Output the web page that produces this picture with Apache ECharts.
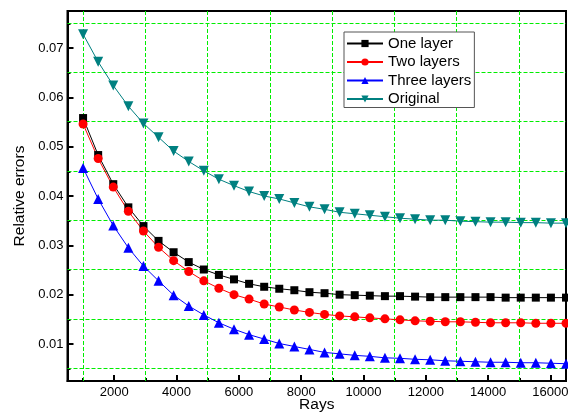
<!DOCTYPE html>
<html>
<head>
<meta charset="utf-8">
<script src="https://cdn.jsdelivr.net/npm/echarts@6/dist/echarts.min.js"></script>
<style>
html,body{margin:0;padding:0;background:#fff;}
#chart{width:568px;height:416px;}
</style>
</head>
<body>
<div id="chart"></div>
<script>
var rays = [1000, 1484, 1969, 2453, 2938, 3422, 3906, 4391, 4875, 5359, 5844, 6328, 6813, 7297, 7781, 8266,
  8750, 9234, 9719, 10203, 10688, 11172, 11656, 12141, 12625, 13109, 13594, 14078, 14563, 15047, 15531, 16016, 16500];

var oneLayer = [0.0558, 0.0483, 0.0424, 0.0377, 0.0339, 0.0309, 0.0286, 0.0266, 0.0251, 0.0240, 0.0231,
  0.0222, 0.0216, 0.0212, 0.0209, 0.0205, 0.0203, 0.0200, 0.0199, 0.0198, 0.0197, 0.0197, 0.0196,
  0.0195, 0.0195, 0.0195, 0.0195, 0.0195, 0.0194, 0.0194, 0.0194, 0.0194, 0.0194];

var twoLayers = [0.0546, 0.0476, 0.0418, 0.0369, 0.0329, 0.0296, 0.0269, 0.0247, 0.0228, 0.0213, 0.0200,
  0.0191, 0.0181, 0.0175, 0.0169, 0.0164, 0.0160, 0.0157, 0.0155, 0.0153, 0.0151, 0.0149, 0.0147,
  0.0146, 0.0145, 0.0145, 0.0144, 0.0143, 0.0143, 0.0143, 0.0142, 0.0142, 0.0142];

var threeLayers = [0.0457, 0.0394, 0.0340, 0.0295, 0.0258, 0.0228, 0.0199, 0.0177, 0.0159, 0.0143, 0.0130,
  0.0119, 0.0110, 0.0101, 0.0095, 0.0089, 0.0083, 0.0080, 0.0077, 0.0075, 0.0072, 0.0071, 0.0069,
  0.0068, 0.0066, 0.0065, 0.0064, 0.0063, 0.0063, 0.0062, 0.0062, 0.0061, 0.0060];

var original = [0.0728, 0.0672, 0.0624, 0.0582, 0.0547, 0.0519, 0.0491, 0.0470, 0.0451, 0.0434, 0.0421,
  0.0409, 0.0400, 0.0394, 0.0386, 0.0378, 0.0373, 0.0367, 0.0364, 0.0361, 0.0358, 0.0355, 0.0353,
  0.0351, 0.0351, 0.0349, 0.0348, 0.0347, 0.0347, 0.0346, 0.0346, 0.0345, 0.0345];

// positions of the dashed green grid lines
var gridRays = [1000, 3000, 5000, 7000, 9000, 11000, 13000, 15000];
var gridErrors = [0.005, 0.015, 0.025, 0.035, 0.045, 0.055, 0.065, 0.075];

var seriesNames = ['One layer', 'Two layers', 'Three layers', 'Original'];
var xLabel = 'Rays';
var yLabel = 'Relative errors';

function pairs(ys) { return rays.map(function (x, i) { return [x, ys[i]]; }); }

var FONT = '"Liberation Sans", Arial, sans-serif';
var GRID_GREEN = '#00ee00';

var chart = echarts.init(document.getElementById('chart'), null, {renderer: 'canvas'});

function mkSeries(name, ys, color, symbol, size, rotate) {
  return {
    name: name, type: 'line', data: pairs(ys),
    symbol: symbol, symbolSize: size, symbolRotate: rotate || 0,
    showAllSymbol: true,
    lineStyle: {color: color, width: 1},
    itemStyle: {color: color},
    animation: false, clip: false, z: 3
  };
}

function crisp(v) { return Math.floor(v) + 0.5; }

var gridStyle = {stroke: GRID_GREEN, lineWidth: 1, lineDash: [4, 2], fill: null};

function vGridItem(params, api) {
  var cs = params.coordSys;
  var x = crisp(api.coord([api.value(0), gridErrors[0]])[0]);
  return {type: 'line', silent: true, shape: {x1: x, y1: cs.y, x2: x, y2: cs.y + cs.height}, style: gridStyle};
}
function hGridItem(params, api) {
  var cs = params.coordSys;
  var y = crisp(api.coord([gridRays[0], api.value(1)])[1]);
  return {type: 'line', silent: true, shape: {x1: cs.x, y1: y, x2: cs.x + cs.width, y2: y}, style: gridStyle};
}

var option = {
  animation: false,
  backgroundColor: '#fff',
  textStyle: {fontFamily: FONT},
  grid: {left: 67.5, top: 11, right: 2, bottom: 35, containLabel: false, outerBoundsMode: 'none',
    show: true, borderColor: '#000', borderWidth: 2, backgroundColor: 'transparent'},
  legend: {
    left: 344, top: 32,
    orient: 'vertical',
    backgroundColor: '#fff',
    borderColor: '#555', borderWidth: 1,
    padding: [4, 3, 1, 2],
    itemGap: 3.5,
    itemWidth: 36, itemHeight: 9,
    textStyle: {fontFamily: FONT, fontSize: 15, color: '#000'},
    data: seriesNames
  },
  xAxis: {
    type: 'value', min: 500, max: 16500, splitNumber: 8,
    name: xLabel, nameLocation: 'middle', nameGap: 16, nameMoveOverlap: false,
    nameTextStyle: {fontFamily: FONT, fontSize: 15.5, color: '#000'},
    axisLine: {show: true, lineStyle: {color: '#000', width: 2}},
    axisTick: {show: true, inside: true, length: 6, lineStyle: {color: '#000', width: 2}},
    minorTick: {show: true, splitNumber: 2, length: 3, lineStyle: {color: '#000', width: 2}},
    axisLabel: {showMinLabel: false, showMaxLabel: false, fontFamily: FONT, fontSize: 13, color: '#000', margin: 5,
      formatter: function (v) { return String(v); }},
    splitLine: {show: false},
    minorSplitLine: {show: false}
  },
  yAxis: {
    type: 'value', min: 0.0025, max: 0.0775, splitNumber: 8,
    name: yLabel, nameLocation: 'middle', nameGap: 40, nameMoveOverlap: false,
    nameTextStyle: {fontFamily: FONT, fontSize: 15.5, color: '#000'},
    axisLine: {show: true, lineStyle: {color: '#000', width: 2}},
    axisTick: {show: true, inside: true, length: 6, lineStyle: {color: '#000', width: 2}},
    minorTick: {show: true, splitNumber: 2, length: 3, lineStyle: {color: '#000', width: 2}},
    axisLabel: {showMinLabel: false, showMaxLabel: false, fontFamily: FONT, fontSize: 13, color: '#000', margin: 4,
      formatter: function (v) { return v.toFixed(2); }},
    splitLine: {show: false},
    minorSplitLine: {show: false}
  },
  series: [
    {
      name: 'vgrid', type: 'custom', z: 1, silent: true, clip: false,
      data: gridRays.map(function (v) { return [v, gridErrors[0]]; }),
      renderItem: vGridItem
    },
    {
      name: 'hgrid', type: 'custom', z: 1, silent: true, clip: false,
      data: gridErrors.map(function (v) { return [gridRays[0], v]; }),
      renderItem: hGridItem
    },
    mkSeries(seriesNames[0], oneLayer, '#000000', 'rect', 8),
    mkSeries(seriesNames[1], twoLayers, '#ff0000', 'circle', 9),
    mkSeries(seriesNames[2], threeLayers, '#0000ff', 'triangle', 10),
    mkSeries(seriesNames[3], original, '#008080', 'triangle', 10, 180)
  ]
};
chart.setOption(option);
</script>
</body>
</html>
